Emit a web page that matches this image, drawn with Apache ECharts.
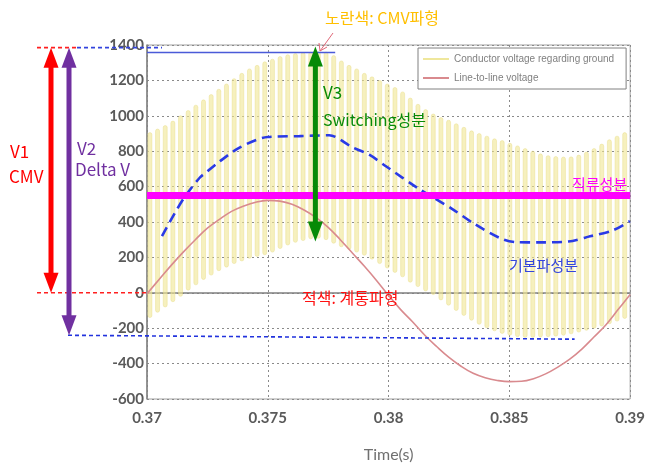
<!DOCTYPE html>
<html>
<head>
<meta charset="utf-8">
<script src="https://cdn.jsdelivr.net/npm/echarts@6/dist/echarts.min.js"></script>
<style>
html,body{margin:0;padding:0;background:#fff;}
#c{width:648px;height:468px;}
</style>
</head>
<body>
<div id="c"></div>
<script>
// ---- data ----
const X_TICKS = [0.37, 0.375, 0.38, 0.385, 0.39];
const Y_TICKS = [-600, -400, -200, 0, 200, 400, 600, 800, 1000, 1200, 1400];

// CMV (conductor voltage regarding ground): switching pulses, upper/lower envelope per pulse
const PULSE_T0 = 0.37012;
const PULSE_DT = 0.000317;
const CMV_UPPER = [905,925,945,970,1000,1030,1060,1090,1120,1150,
  1180,1210,1240,1265,1285,1305,1320,1335,1345,1352,
  1357,1360,1362,1360,1340,1310,1285,1265,1240,1220,
  1200,1180,1160,1135,1100,1065,1035,1010,990,975,
  955,935,915,900,885,870,860,845,830,815,
  800,785,775,770,767,768,778,795,815,840,
  865,885,905];
const CMV_LOWER = [-140,-110,-80,-50,-20,15,45,75,100,125,
  145,165,180,195,205,215,230,250,270,285,
  295,305,308,300,280,260,245,230,212,190,
  165,140,115,90,60,35,10,-10,-40,-70,
  -100,-128,-155,-178,-198,-215,-230,-240,-248,-252,
  -252,-250,-248,-245,-240,-232,-222,-212,-200,-188,
  -175,-160,-145];

// Line-to-line voltage, sampled every 0.5 ms from 0.370 s
const LL_T0 = 0.370, LL_DT = 0.0005;
const LL_V = [-5,75,155,230,300,365,415,460,490,512,
  522,518,500,468,425,370,300,225,150,70,
  -15,-95,-165,-240,-305,-365,-415,-455,-480,-495,
  -502,-500,-485,-458,-420,-375,-318,-250,-180,-95,-10];

// Fundamental component (blue dashed)
const FUND_T = [0.37062,0.37115,0.37157,0.37218,0.37247,0.37289,0.37383,0.37499,0.37631,0.37754,
  0.37849,0.37920,0.37989,0.38125,0.38261,0.38352,0.38463,0.38530,0.38620,0.38744,
  0.38834,0.38929,0.38999];
const FUND_V = [320,450,543,650,683,730,820,880,885,890,
  823,780,715,588,476,392,308,286,285,290,
  319,353,405];

// DC component, top reference line, annotation levels
const DC_LEVEL = 550;
const TOP_LINE = { t0: 0.37, t1: 0.37779, v: 1358 };
const V_TOP = 1385;          // top of V1/V2 arrows
const V_ZERO = 0;            // bottom of V1
const V_BOT_L = -240, V_BOT_R = -262, T_BOT_R = 0.3877; // V2 bottom reference
const V3_T = 0.37697, V3_TOP = 1392, V3_BOT = 290;

// ---- build ----
const cmvData = CMV_UPPER.map((u, i) => [PULSE_T0 + i * PULSE_DT, CMV_LOWER[i], u]);
const llData = LL_V.map((v, i) => [LL_T0 + i * LL_DT, v]);
const fundData = FUND_T.map((t, i) => [t, FUND_V[i]]);

const chart = echarts.init(document.getElementById('c'));
const axisFont = { fontFamily: 'Lato', fontWeight: 'bold', fontSize: 15, color: '#5a5a5a' };
const grid = { left: 147, right: 16, top: 45, bottom: 66, show: true, borderColor: '#a0a0a0', borderWidth: 1 };

chart.setOption({
  backgroundColor: '#fff',
  animation: false,
  grid: grid,
  legend: {
    data: [
      { name: 'Conductor voltage regarding ground', icon: 'rect' },
      { name: 'Line-to-line voltage', icon: 'rect' }
    ],
    orient: 'vertical', left: 418, top: 48,
    itemWidth: 26, itemHeight: 2, itemGap: 7,
    padding: [5, 12, 5, 5],
    borderColor: '#808080', borderWidth: 1, backgroundColor: '#fff',
    textStyle: { fontFamily: 'Liberation Sans', fontSize: 10, color: '#808080', lineHeight: 12 }
  },
  xAxis: {
    type: 'value', min: X_TICKS[0], max: X_TICKS[X_TICKS.length - 1], interval: 0.005,
    name: 'Time(s)', nameLocation: 'middle', nameGap: 48,
    nameTextStyle: { fontFamily: 'Lato', fontSize: 16, color: '#707070' },
    axisLine: { lineStyle: { color: '#808080', width: 1.5 } },
    axisTick: { show: false },
    axisLabel: Object.assign({ margin: 12, formatter: v => String(+v.toFixed(3)) }, axisFont),
    splitLine: { show: true, lineStyle: { color: '#8a8a8a', type: [2, 3], width: 1 } }
  },
  yAxis: {
    type: 'value', min: Y_TICKS[0], max: Y_TICKS[Y_TICKS.length - 1], interval: 200,
    axisLine: { show: true, lineStyle: { color: '#808080', width: 1.5 } },
    axisTick: { show: false },
    axisLabel: Object.assign({ margin: 3, formatter: v => String(Math.round(v)) }, axisFont),
    splitLine: { show: true, lineStyle: { color: '#8a8a8a', type: [2, 3], width: 1 } }
  },
  series: [
    {
      type: 'custom', name: 'cmv-pulses', data: cmvData, z: 1,
      encode: { x: 0, y: [1, 2] },
      renderItem: function (params, api) {
        const t = api.value(0);
        const pTop = api.coord([t, api.value(2)]);
        const pBot = api.coord([t, api.value(1)]);
        return {
          type: 'rect',
          shape: { x: pTop[0] - 2, y: pTop[1], width: 4, height: pBot[1] - pTop[1], r: 2 },
          style: { fill: 'rgba(240,230,150,0.62)', stroke: 'rgba(232,220,130,0.7)', lineWidth: 0.6 }
        };
      }
    },
    {
      type: 'line', name: 'Conductor voltage regarding ground', data: [],
      symbol: 'none', color: '#efe79c', lineStyle: { color: '#efe79c', width: 2 }
    },
    {
      type: 'line', name: 'Line-to-line voltage', data: llData, smooth: 0.4,
      symbol: 'none', color: '#d98a8e', lineStyle: { color: '#d98a8e', width: 1.6 }, z: 3
    },
    {
      type: 'line', name: 'fundamental', data: fundData, smooth: 0.3,
      symbol: 'none', lineStyle: { color: '#2a3ae6', width: 2.6, type: [10, 6] }, z: 4
    },
    {
      type: 'line', name: 'dc', data: [[X_TICKS[0], DC_LEVEL], [X_TICKS[X_TICKS.length - 1], DC_LEVEL]],
      symbol: 'none', lineStyle: { color: '#ff00ff', width: 7 }, z: 5
    },
    {
      type: 'line', name: 'top', data: [[TOP_LINE.t0, TOP_LINE.v], [TOP_LINE.t1, TOP_LINE.v]],
      symbol: 'none', lineStyle: { color: '#4a5ad8', width: 1.5 }, z: 5
    }
  ]
});

// ---- annotations ----
const px = (t, v) => chart.convertToPixel({ gridIndex: 0 }, [t, v]);
const yOf = v => px(X_TICKS[0], v)[1];
const yTop = yOf(V_TOP), y0 = yOf(V_ZERO), yBL = yOf(V_BOT_L);
const pBR = px(T_BOT_R, V_BOT_R);
const xLeft = px(X_TICKS[0], 0)[0];

function dline(x1, y1, x2, y2, color) {
  return { type: 'line', z: 100, shape: { x1, y1, x2, y2 }, style: { stroke: color, lineWidth: 1.6, lineDash: [4, 3] } };
}
function darrow(x, yA, yB, color) {
  const hw = 7.5, hh = 20;
  return [
    { type: 'line', z: 100, shape: { x1: x, y1: yA + hh - 2, x2: x, y2: yB - hh + 2 }, style: { stroke: color, lineWidth: 5 } },
    { type: 'polygon', z: 101, shape: { points: [[x, yA], [x - hw, yA + hh], [x + hw, yA + hh]] }, style: { fill: color } },
    { type: 'polygon', z: 101, shape: { points: [[x, yB], [x - hw, yB - hh], [x + hw, yB - hh]] }, style: { fill: color } }
  ];
}
function txt(text, x, y, color, size) {
  return { type: 'text', z: 110, style: { text, x, y, fill: color, fontSize: size, fontFamily: '"Noto Sans CJK KR"', verticalAlign: 'middle', align: 'left' } };
}

const pV3top = px(V3_T, V3_TOP), pV3bot = px(V3_T, V3_BOT);
const g = [];
g.push(dline(37, yTop, 77, yTop, '#ff2020'));
g.push(dline(77, yTop, 162, yTop, '#3344dd'));
g.push(dline(37, y0, xLeft, y0, '#ff2020'));
g.push(dline(68, yBL, pBR[0], pBR[1], '#2233dd'));
g.push(...darrow(51, yTop, y0, '#ff0000'));
g.push(...darrow(69, yTop, yBL, '#7030a0'));
g.push(...darrow(pV3top[0], pV3top[1], pV3bot[1], '#078a07'));
// small pointer from the yellow label
g.push({ type: 'line', z: 100, shape: { x1: 333, y1: 33, x2: 320, y2: 51 }, style: { stroke: '#e06878', lineWidth: 1 } });
g.push({ type: 'polyline', z: 100, shape: { points: [[319, 43], [320, 51], [327, 47]] }, style: { stroke: '#e06878', lineWidth: 1, fill: null } });

g.push(txt('V1', 10, 152, '#ff0000', 17));
g.push(txt('CMV', 9, 177, '#ff0000', 17));
g.push(txt('V2', 77, 149, '#7030a0', 17));
g.push(txt('Delta V', 75, 170, '#7030a0', 17));
g.push(txt('V3', 323, 93, '#078a07', 17));
g.push(txt('Switching성분', 323, 120, '#078a07', 16));
g.push(txt('노란색: CMV파형', 325, 18, '#ffbf00', 16));
g.push(txt('직류성분', 572, 184, '#ff00ff', 15));
g.push(txt('기본파성분', 509, 265, '#3344dd', 15));
g.push(txt('적색: 계통파형', 302, 298, '#ff1010', 16));

chart.setOption({ graphic: g });
</script>
</body>
</html>
